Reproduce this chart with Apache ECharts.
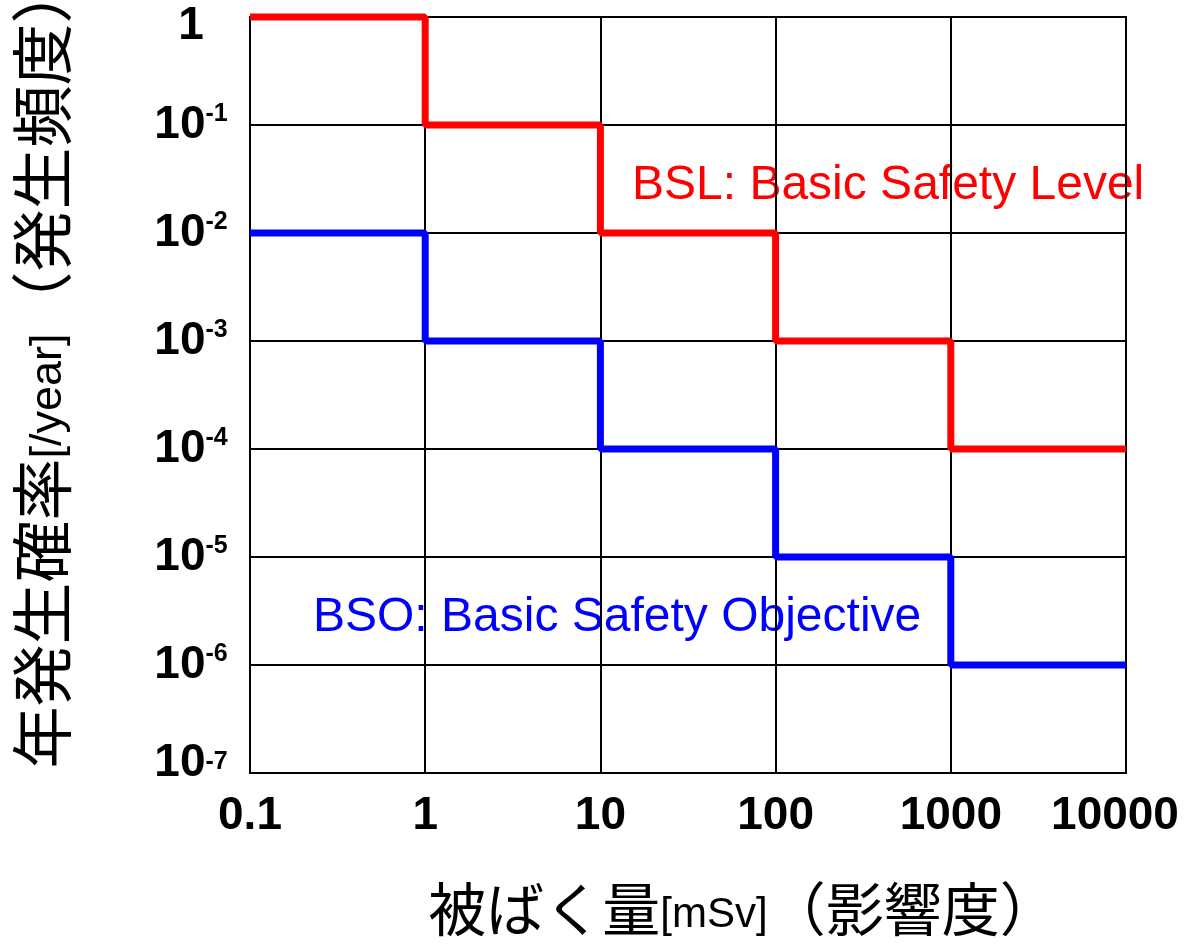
<!DOCTYPE html>
<html>
<head>
<meta charset="utf-8">
<script src="https://cdn.jsdelivr.net/npm/echarts@6/dist/echarts.min.js"></script>
<style>
  html, body { margin: 0; padding: 0; background: #fff; }
  #chart { width: 1186px; height: 951px; }
</style>
</head>
<body>
<div id="chart"></div>
<script>
// 被ばく量 [mSv] の目盛り
const xTickLabels = ["0.1", "1", "10", "100", "1000", "10000"];
// 年発生確率の目盛り（基数, 指数） 10^-7 → 1
const yTickLabels = [["10", "-7"], ["10", "-6"], ["10", "-5"], ["10", "-4"], ["10", "-3"], ["10", "-2"], ["10", "-1"], ["1", ""]];

// BSL: Basic Safety Level
const bslDose = [0.1, 1, 10, 100, 1000, 10000];
const bslFreq = [1, 0.1, 0.01, 0.001, 0.0001, 0.0001];
// BSO: Basic Safety Objective
const bsoDose = [0.1, 1, 10, 100, 1000, 10000];
const bsoFreq = [0.01, 0.001, 0.0001, 0.00001, 0.000001, 0.000001];

const fuente = "'Liberation Sans', Arial, 'Noto Sans CJK JP', sans-serif";

function pares(xs, ys) {
  return xs.map((x, i) => [x, ys[i]]);
}

var dom = document.getElementById("chart");
var myChart = echarts.init(dom, null, { renderer: "canvas" });

var option = {
  animation: false,
  backgroundColor: "#fff",
  grid: {
    left: 250,
    right: 60,
    top: 17,
    bottom: 178,
    containLabel: false,
    outerBoundsMode: "none",
    show: true,
    borderColor: "#000",
    borderWidth: 2,
  },
  xAxis: {
    type: "log",
    logBase: 10,
    min: 0.1,
    max: 10000,
    splitNumber: 5,
    axisLine: { show: true, lineStyle: { color: "#000", width: 2 } },
    axisTick: { show: false },
    splitLine: { show: true, lineStyle: { color: "#000", width: 2 } },
    axisLabel: {
      margin: 20,
      color: "#000",
      formatter: function (v) {
        const i = Math.round(Math.log10(v)) + 1;
        const t = xTickLabels[i] || "";
        // la última etiqueta va un poco hacia dentro
        return i === xTickLabels.length - 1 ? "{u|" + t + "}" : "{n|" + t + "}";
      },
      rich: {
        n: { fontSize: 46, fontWeight: "bold", fontFamily: fuente, color: "#000" },
        u: { fontSize: 46, fontWeight: "bold", fontFamily: fuente, color: "#000", padding: [0, 22, 0, 0] },
      },
    },
    name: "{a|被ばく量}{b|[mSv]}{a|（影響度）}",
    nameLocation: "middle",
    nameGap: 110,
    nameTextStyle: {
      padding: [0, 0, 0, 110],
      rich: {
        a: { fontSize: 58, fontFamily: fuente, color: "#000", lineHeight: 64 },
        b: { fontSize: 42, fontFamily: fuente, color: "#000", lineHeight: 64 },
      },
    },
  },
  yAxis: {
    type: "log",
    logBase: 10,
    min: 1e-7,
    max: 1,
    splitNumber: 7,
    axisLine: { show: true, lineStyle: { color: "#000", width: 2 } },
    axisTick: { show: false },
    splitLine: { show: true, lineStyle: { color: "#000", width: 2 } },
    axisLabel: {
      margin: 59,
      align: "center",
      color: "#000",
      formatter: function (v) {
        const e = Math.round(Math.log10(v));
        const t = yTickLabels[e + 7];
        if (!t) return "";
        if (!t[1]) return "{top|" + t[0] + "}";
        const base = e === -7 ? "bot" : "b";
        return "{" + base + "|" + t[0] + "}{s|" + t[1] + "}";
      },
      rich: {
        b: { fontSize: 46, fontWeight: "bold", fontFamily: fuente, color: "#000", lineHeight: 46 },
        top: { fontSize: 46, fontWeight: "bold", fontFamily: fuente, color: "#000", lineHeight: 46, padding: [18, 0, 0, 0] },
        bot: { fontSize: 46, fontWeight: "bold", fontFamily: fuente, color: "#000", lineHeight: 46, padding: [0, 0, 20, 0] },
        s: { fontSize: 25, fontWeight: "bold", fontFamily: fuente, color: "#000", lineHeight: 28, verticalAlign: "top" },
      },
    },
    name: "{a|年発生確率}{b|[/year]}{a|（発生頻度）}",
    nameLocation: "middle",
    nameRotate: 90,
    nameGap: 168,
    nameTextStyle: {
      padding: [0, 0, 0, 60],
      rich: {
        a: { fontSize: 62, fontFamily: fuente, color: "#000", lineHeight: 66 },
        b: { fontSize: 45, fontFamily: fuente, color: "#000", lineHeight: 66 },
      },
    },
  },
  series: [
    {
      name: "BSL",
      type: "line",
      step: "end",
      symbol: "none",
      clip: false,
      lineStyle: { color: "#ff0000", width: 7 },
      data: pares(bslDose, bslFreq),
    },
    {
      name: "BSO",
      type: "line",
      step: "end",
      symbol: "none",
      clip: false,
      lineStyle: { color: "#0000ff", width: 7 },
      data: pares(bsoDose, bsoFreq),
    },
  ],
  graphic: [
    {
      type: "text",
      left: 632,
      top: 162,
      style: { text: "BSL: Basic Safety Level", fill: "#ff0000", fontSize: 48, fontFamily: fuente },
    },
    {
      type: "text",
      left: 313,
      top: 594,
      style: { text: "BSO: Basic Safety Objective", fill: "#0000ff", fontSize: 48, fontFamily: fuente },
    },
  ],
};

myChart.setOption(option, true);
window.addEventListener("resize", myChart.resize);
</script>
</body>
</html>
